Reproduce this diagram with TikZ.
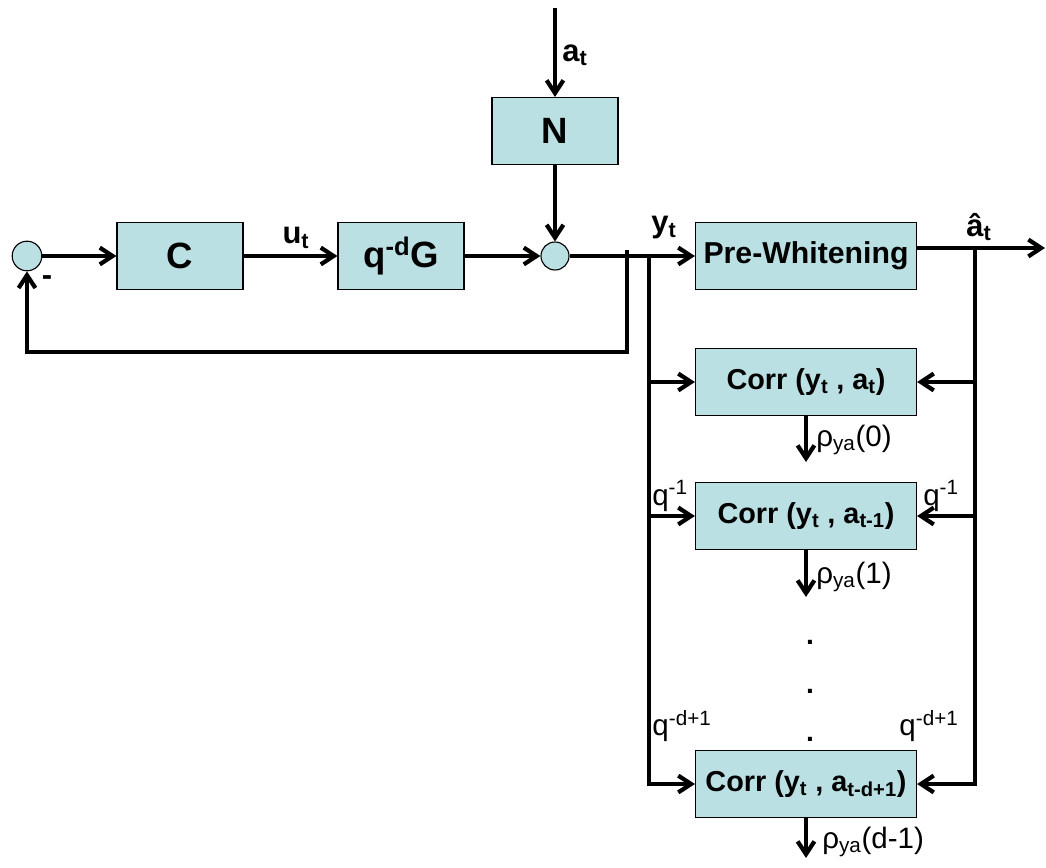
\documentclass[tikz,border=0pt]{standalone}
\usepackage{fontspec}
\setmainfont{Liberation Sans}
\usepackage{tikz}
\usetikzlibrary{arrows.meta, positioning, calc}
\definecolor{blockfill}{RGB}{187,224,227}
\tikzset{
    block/.style={draw, rectangle, fill=blockfill, line width=0.8pt, align=center, inner sep=0pt, minimum height=1.675cm},
    summer/.style={draw, circle, fill=blockfill, line width=0.8pt, minimum size=0.74cm, inner sep=0pt},
    sig/.style={line width=3pt},
    bigtext/.style={font=\bfseries\fontsize{26}{30}\selectfont},
    boxtext/.style={font=\bfseries\fontsize{20.5}{24}\selectfont},
    siglabel/.style={font=\bfseries\fontsize{22}{26}\selectfont, inner sep=0pt},
    smalllabel/.style={font=\fontsize{21}{25}\selectfont, inner sep=0pt},
}

\begin{document}
\begin{tikzpicture}[x=0.025cm, y=-0.025cm, >={Straight Barb[length=3.2mm,width=4.2mm]}]
    \useasboundingbox (0,0) rectangle (1046,868);

    % loop: controller, plant, noise
    \node[summer] (s1) at (27,256) {};
    \node[block, bigtext, minimum width=3.15cm] (vC) at (180,256) {C};
    \node[block, bigtext, minimum width=3.15cm] (vG) at (401,256) {q\textsuperscript{-d}G};
    \node[summer, minimum size=0.7cm] (s2) at (555,256) {};
    \node[block, bigtext, minimum width=3.15cm] (vN) at (555,131) {N};

    % whitening and correlators
    \node[block, boxtext, font=\bfseries\fontsize{21.5}{24}\selectfont, minimum width=5.525cm] (vPW) at (806,256) {Pre-Whitening};
    \node[block, boxtext, minimum width=5.525cm] (vCa) at (806,382) {Corr (y\textsubscript{t} , a\textsubscript{t})};
    \node[block, boxtext, minimum width=5.525cm] (vCb) at (806,516) {Corr (y\textsubscript{t} , a\textsubscript{t-1})};
    \node[block, boxtext, minimum width=5.525cm] (vCc) at (806,784) {Corr (y\textsubscript{t} , a\textsubscript{t-d+1})};

    \coordinate (ain) at (555,8);
    \coordinate (fbtop) at (627,250);
    \coordinate (fbcorner) at (627,352);
    \coordinate (ytap) at (649,256);
    \coordinate (ahat) at (975,248);
    \coordinate (out) at (1045,248);
    \coordinate (r0) at (806,462);
    \coordinate (r1) at (806,597);
    \coordinate (r2) at (806,858);

    \draw[sig,->] (s1) -- (vC);
    \draw[sig,->] (vC) -- (vG);
    \draw[sig,->] (vG) -- (s2);
    \draw[sig,->] (ain) -- (vN);
    \draw[sig,->] (vN) -- (s2);
    \draw[sig,->] (s2) -- (vPW);
    \draw[sig,->] (fbtop) -- (fbcorner) -| (s1);

    \draw[sig,->] (ytap) |- (vCa);
    \draw[sig,->] (ytap) |- (vCb);
    \draw[sig,->] (ytap) |- (vCc);

    \draw[sig,->] (vPW.east |- ahat) -- (out);
    \draw[sig,->] (ahat) |- (vCa);
    \draw[sig,->] (ahat) |- (vCb);
    \draw[sig,->] (ahat) |- (vCc);

    \draw[sig,->] (vCa) -- (r0);
    \draw[sig,->] (vCb) -- (r1);
    \draw[sig,->] (vCc) -- (r2);

    % signal names
    \node[siglabel] (la) at (575,55) {a\textsubscript{t}};
    \node[siglabel] (lu) at (296,238) {u\textsubscript{t}};
    \node[siglabel] (ly) at (664,228) {y\textsubscript{t}};
    \node[siglabel] (lahat) at (979,227) {â\textsubscript{t}};
    \node[siglabel] (lminus) at (47,281) {-};

    \node[smalllabel, anchor=west] (lr0) at (816,440) {ρ\textsubscript{ya}(0)};
    \node[smalllabel, anchor=west] (lr1) at (816,577) {ρ\textsubscript{ya}(1)};
    \node[smalllabel, anchor=west] (lr2) at (822,842) {ρ\textsubscript{ya}(d-1)};

    \node[smalllabel] (lq1) at (670,496) {q\textsuperscript{-1}};
    \node[smalllabel] (lq2) at (941,496) {q\textsuperscript{-1}};
    \node[smalllabel] (lq3) at (682,726) {q\textsuperscript{-d+1}};
    \node[smalllabel] (lq4) at (929,726) {q\textsuperscript{-d+1}};

    \node[smalllabel, font=\bfseries\fontsize{20}{24}\selectfont, anchor=base] (d1) at (810,644) {.};
    \node[smalllabel, font=\bfseries\fontsize{20}{24}\selectfont, anchor=base] (d2) at (810,693) {.};
    \node[smalllabel, font=\bfseries\fontsize{20}{24}\selectfont, anchor=base] (d3) at (810,741) {.};
\end{tikzpicture}
\end{document}
